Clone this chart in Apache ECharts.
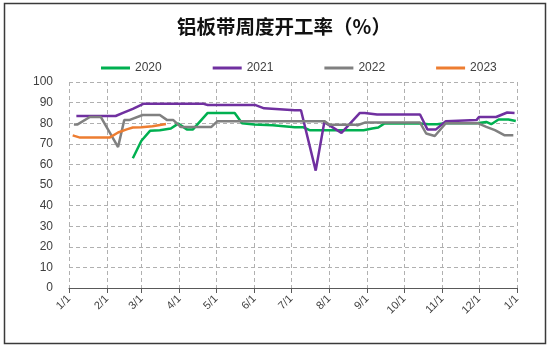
<!DOCTYPE html>
<html>
<head>
<meta charset="utf-8">
<script src="https://cdn.jsdelivr.net/npm/echarts@6/dist/echarts.min.js"></script>
<style>html,body{margin:0;padding:0;background:#fff;}#c{width:550px;height:350px;}</style>
</head>
<body>
<div id="c"></div>
<script>
const title = '铝板带周度开工率（%）';
const seriesNames = ['2020', '2021', '2022', '2023'];
const colors = ['#00b050', '#7030a0', '#808080', '#ed7d31'];

const dates2020 = ['02-22','03-01','03-08','03-16','03-25','03-31','04-07','04-12','04-24','05-16','05-22','06-01','06-16','07-04','07-11','07-16','08-29','09-05','09-10','09-15','10-14','10-21','10-28','11-03','11-29','12-07','12-11','12-17','12-25','12-31'];
const values2020 = [63,71.5,76.3,76.6,77.4,79.8,77,77,85,85,80,79.4,79,78,78,76.6,76.6,77.4,77.9,79.9,79.9,79.5,79.5,80,80,80.6,79.5,81.8,81.8,81.1];

const dates2021 = ['01-07','02-08','02-14','02-22','03-03','04-20','04-24','06-02','06-09','07-04','07-09','07-21','07-28','08-11','08-26','08-30','09-09','10-14','10-20','10-27','11-04','11-29','12-01','12-15','12-24','12-30'];
const values2021 = [83.5,83.5,85,87,89.5,89.5,88.8,88.8,87.2,86.3,86.3,57,80.5,75.3,85,85,84.2,84.2,77,77,81,81.5,83,83,85.2,85];

const dates2022 = ['01-05','01-08','01-18','01-27','02-10','02-15','02-19','03-02','03-16','03-22','03-27','04-02','04-27','05-02','07-28','08-01','08-22','08-24','08-30','10-14','10-19','10-26','11-04','11-30','12-07','12-14','12-22','12-29'];
const values2022 = [79.4,79.4,83,83,68.4,81.5,81.5,84,84,81.5,81.5,78.2,78.2,81,81,79.3,79.3,79,80.3,80.3,75,73.8,80,80,78.2,76.6,74.1,74.1];

const dates2023 = ['01-04','01-10','02-03','02-10','02-17','02-22','03-01','03-10','03-21'];
const values2023 = [74.1,73,73,75.5,77,77.9,78,78.5,79.6];

const baseYear = 2021;
function toTime(md) {
  const p = md.split('-');
  return new Date(baseYear, +p[0] - 1, +p[1]).getTime();
}
function pairs(dates, values) {
  return dates.map((d, i) => [toTime(d), values[i]]);
}
const allData = [
  pairs(dates2020, values2020),
  pairs(dates2021, values2021),
  pairs(dates2022, values2022),
  pairs(dates2023, values2023)
];

const chart = echarts.init(document.getElementById('c'), null, { renderer: 'canvas' });
const dashed = { color: '#b0b0b0', width: 1, type: [4, 3] };
chart.setOption({
  animation: false,
  color: colors,
  title: {
    text: title,
    left: 279,
    textAlign: 'center',
    top: 12,
    textStyle: { fontFamily: 'Noto Sans CJK SC', fontWeight: 'bold', fontSize: 19.5, color: '#111' }
  },
  legend: {
    data: seriesNames,
    top: 57,
    left: 96,
    itemGap: 51,
    itemWidth: 29,
    itemHeight: 3,
    icon: 'rect',
    textStyle: { fontFamily: 'Liberation Sans', fontSize: 12, color: '#404040' }
  },
  grid: { left: 69, right: 33, top: 82, bottom: 62, containLabel: false },
  xAxis: {
    type: 'time',
    min: new Date(baseYear, 0, 1).getTime(),
    max: new Date(baseYear + 1, 0, 1).getTime(),
    splitNumber: 12,
    axisLine: { show: true, lineStyle: { color: '#595959', width: 1.2 } },
    axisTick: { show: true, length: 5, lineStyle: { color: '#595959' } },
    splitLine: { show: true, lineStyle: dashed },
    axisLabel: {
      rotate: 45,
      margin: 9,
      fontFamily: 'Liberation Sans',
      fontSize: 11,
      color: '#404040',
      showMinLabel: true,
      showMaxLabel: true,
      hideOverlap: false,
      formatter: function (v) {
        const d = new Date(v);
        return (d.getMonth() + 1) + '/' + d.getDate();
      }
    }
  },
  yAxis: {
    type: 'value',
    min: 0,
    max: 100,
    interval: 10,
    axisLine: { show: false },
    axisTick: { show: false },
    splitLine: { show: true, lineStyle: dashed },
    axisLabel: { margin: 16, fontFamily: 'Liberation Sans', fontSize: 12, color: '#404040' }
  },
  graphic: [{
    type: 'rect',
    shape: { x: 4.5, y: 3.5, width: 541, height: 340 },
    style: { fill: 'none', stroke: '#3a3a3a', lineWidth: 1.5 },
    silent: true,
    z: 100
  }],
  series: seriesNames.map((n, i) => ({
    name: n,
    type: 'line',
    data: allData[i],
    showSymbol: false,
    symbol: 'none',
    lineStyle: { width: 2.5, color: colors[i] },
    itemStyle: { color: colors[i] }
  }))
});
</script>
</body>
</html>
